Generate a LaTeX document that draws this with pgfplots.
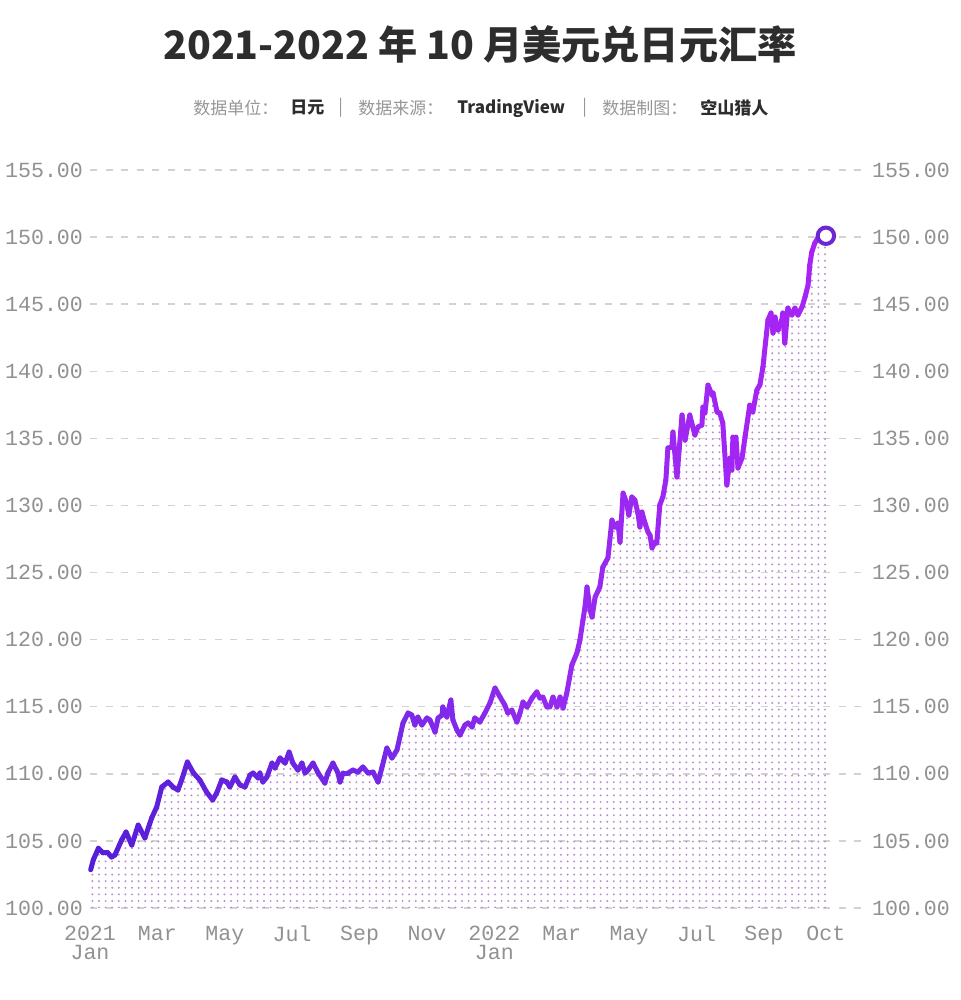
\documentclass[border=0pt]{standalone}
\usepackage{pgfplots}
\pgfplotsset{compat=1.18}
\usepackage{pgfplotstable}
\usepackage{fontspec}
\usetikzlibrary{patterns}
\setmainfont{Liberation Sans}
\newfontfamily\cjk{Noto Sans CJK SC}
\newfontfamily\monof{Liberation Mono}
\definecolor{titc}{RGB}{45,45,45}
\definecolor{subc}{RGB}{150,150,150}
\definecolor{tickc}{RGB}{145,145,145}
\definecolor{gridc}{RGB}{210,210,210}
\definecolor{dotc}{RGB}{185,140,212}
\definecolor{endc}{RGB}{110,40,210}
\pgfdeclarepatternformonly{mydots}{\pgfpoint{-1pt}{-1pt}}{\pgfpoint{1pt}{1pt}}{\pgfpoint{3.3pt}{3.3pt}}{\pgfpathcircle{\pgfpointorigin}{0.55pt}\pgfusepath{fill}}
\pgfplotstableread{
m v
0.02 102.85
0.10 103.60
0.25 104.45
0.39 104.10
0.53 104.10
0.64 103.80
0.74 103.95
0.94 105.07
1.07 105.66
1.24 104.69
1.43 106.18
1.63 105.22
1.83 106.71
1.98 107.53
2.13 109.02
2.32 109.39
2.46 109.02
2.61 108.79
2.72 109.54
2.89 110.88
3.07 110.06
3.26 109.54
3.46 108.64
3.64 108.05
3.76 108.57
3.91 109.54
4.06 109.39
4.15 109.02
4.30 109.76
4.45 109.17
4.60 109.02
4.75 109.91
4.84 110.06
4.99 109.69
5.04 110.06
5.13 109.39
5.25 109.76
5.40 110.80
5.49 110.43
5.64 111.18
5.79 110.80
5.91 111.62
6.02 110.80
6.17 110.28
6.29 110.80
6.38 110.06
6.47 110.28
6.62 110.80
6.77 110.06
6.97 109.31
7.06 110.06
7.21 110.80
7.36 110.06
7.42 109.39
7.51 110.06
7.66 110.06
7.80 110.28
7.95 110.13
8.10 110.51
8.25 110.06
8.40 110.13
8.55 109.39
8.66 110.43
8.81 111.92
8.96 111.18
9.11 111.77
9.29 113.79
9.44 114.53
9.55 114.38
9.64 113.64
9.73 114.23
9.85 113.64
10.00 114.16
10.09 114.01
10.24 113.11
10.33 114.16
10.45 114.38
10.47 114.98
10.59 114.23
10.71 115.50
10.77 114.01
10.89 113.26
10.98 112.89
11.13 113.64
11.22 113.79
11.34 113.49
11.42 114.16
11.57 113.86
11.72 114.53
11.87 115.28
12.02 116.39
12.17 115.72
12.31 115.13
12.40 114.53
12.52 114.75
12.67 113.86
12.76 114.53
12.85 115.35
12.97 114.98
13.12 115.65
13.26 116.10
13.35 115.65
13.44 115.72
13.56 114.98
13.65 114.98
13.74 115.72
13.86 114.98
13.95 115.72
14.04 114.90
14.15 116.02
14.30 118.11
14.45 119.00
14.54 119.97
14.63 121.46
14.69 122.43
14.75 123.92
14.84 122.21
14.90 121.68
14.99 123.17
15.13 123.92
15.22 125.41
15.37 126.08
15.49 128.91
15.58 128.39
15.67 128.69
15.73 127.27
15.82 130.92
15.93 130.18
15.99 129.28
16.08 130.63
16.17 130.40
16.26 129.43
16.32 128.39
16.38 129.51
16.47 128.69
16.56 128.02
16.62 127.79
16.68 126.83
16.77 127.27
16.82 127.20
16.91 130.03
17.00 130.63
17.09 131.89
17.15 134.28
17.27 134.35
17.30 135.47
17.42 132.12
17.57 136.74
17.66 134.87
17.80 136.74
17.95 135.25
18.04 135.84
18.16 135.99
18.19 137.33
18.25 136.89
18.34 138.97
18.46 138.23
18.49 138.38
18.61 136.96
18.69 136.89
18.78 136.14
18.90 131.52
18.99 133.53
19.05 132.64
19.08 135.10
19.17 135.10
19.23 132.79
19.35 133.53
19.44 135.10
19.58 137.48
19.67 136.96
19.79 138.60
19.88 138.97
19.97 140.31
20.12 143.82
20.21 144.34
20.27 142.85
20.33 144.04
20.42 143.07
20.53 143.82
20.56 144.34
20.62 142.10
20.71 144.71
20.83 144.19
20.92 144.71
21.01 144.19
21.13 144.78
21.22 145.53
21.31 146.42
21.36 147.91
21.42 148.88
21.51 149.55
21.60 149.93
21.84 150.10
}\usd
\begin{document}
\begin{tikzpicture}
\useasboundingbox (-45pt,-46pt) rectangle (435pt,454pt);
\pgfplotsset{
  base/.style={
    at={(0,0)}, anchor=south west,
    scale only axis, width=387.5pt, height=369pt,
    xmin=0, xmax=23.0, ymin=100, ymax=155,
    axis line style={draw=none},
    major tick length=0pt,
    ytick={100,105,110,115,120,125,130,135,140,145,150,155},
    yticklabels={100.00,105.00,110.00,115.00,120.00,125.00,130.00,135.00,140.00,145.00,150.00,155.00},
    yticklabel style={font=\monof\fontsize{10.8}{12}\selectfont, text=tickc},
  }
}
\begin{axis}[base,
    ymajorgrids,
    grid style={draw=gridc, line width=0.75pt, dash pattern=on 3.5pt off 4.3pt},
    xtick={0,2,4,6,8,10,12,14,16,18,20,21.84},
    xticklabels={{2021\\Jan},Mar,May,Jul,Sep,Nov,{2022\\Jan},Mar,May,Jul,Sep,Oct},
    xticklabel style={font=\monof\fontsize{10.8}{9.6}\selectfont, text=tickc, align=center, anchor=north, yshift=-5.5pt},
    colormap={purp}{rgb255(0cm)=(85,30,215) rgb255(9cm)=(120,40,232) rgb255(14cm)=(150,42,240) rgb255(22cm)=(168,35,245)},
    point meta min=0, point meta max=22,
    clip=false,
  ]
  \addplot[draw=none, pattern=mydots, pattern color=dotc] table[x=m,y=v] {\usd} \closedcycle;
  \addplot[mesh, point meta=x, line width=2.5pt, line join=round, line cap=round] table[x=m,y=v] {\usd};
  \addplot[only marks, mark=*, mark size=4.1pt, mark options={fill=white, draw=endc, line width=2pt}] coordinates {(21.84,150.10)};
\end{axis}
\begin{axis}[base,
    xtick=\empty,
    yticklabel pos=right,
  ]
\end{axis}
\node[font=\cjk\bfseries\fontsize{19.6}{24}\selectfont, text=titc] at (195pt,431.5pt) {2021-2022 年 10 月美元兑日元汇率};
\begin{scope}[every node/.style={anchor=west, inner sep=0pt, font=\cjk\fontsize{8.5}{10}\selectfont}]
\node[text=subc] at (51.5pt,400pt) {数据单位：};
\node[text=titc, font=\cjk\bfseries\fontsize{8.5}{10}\selectfont] at (100pt,400pt) {日元};
\node[text=subc] at (124pt,400pt) {|};
\node[text=subc] at (134pt,400pt) {数据来源：};
\node[text=titc, font=\cjk\bfseries\fontsize{8.5}{10}\selectfont] at (183.5pt,400pt) {TradingView};
\node[text=subc] at (246pt,400pt) {|};
\node[text=subc] at (256pt,400pt) {数据制图：};
\node[text=titc, font=\cjk\bfseries\fontsize{8.5}{10}\selectfont] at (305pt,400pt) {空山猎人};
\end{scope}
\end{tikzpicture}
\end{document}
